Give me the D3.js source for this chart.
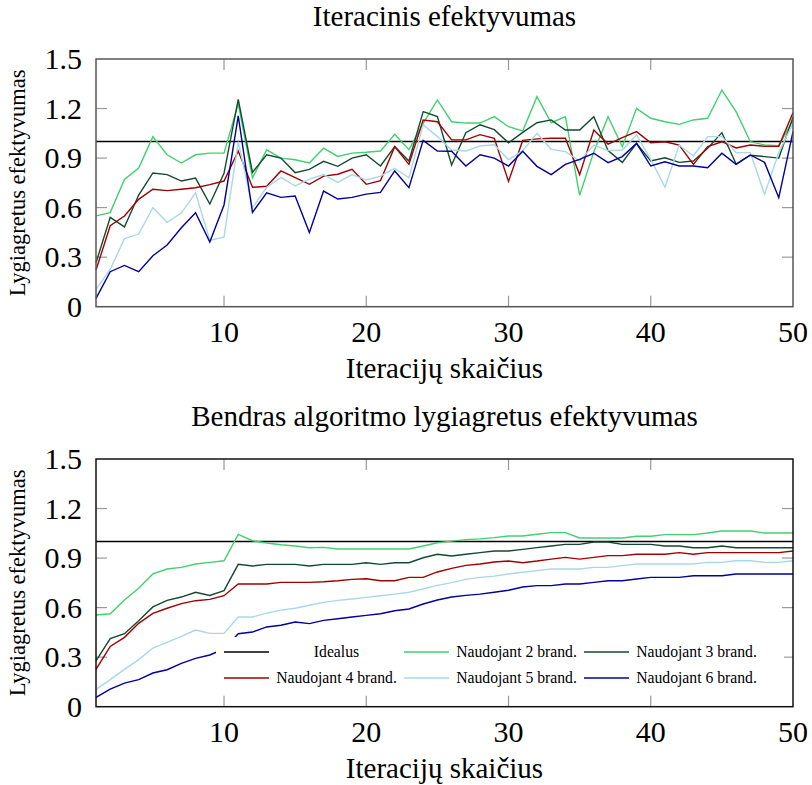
<!DOCTYPE html>
<html>
<head>
<meta charset="utf-8">
<script src="https://cdn.jsdelivr.net/npm/d3@7"></script>
<style>
  body { margin: 0; background: #fff; }
  svg text { font-family: "Liberation Serif", "DejaVu Serif", serif; fill: #000; }
</style>
</head>
<body>
<div id="chart"></div>
<script>
// iteracijos 1..50
const iterations = d3.range(1, 51);
const yTicks = [0, 0.3, 0.6, 0.9, 1.2, 1.5];
const xTicks = [10, 20, 30, 40, 50];
const seriesNames = ["Naudojant 2 brand.", "Naudojant 3 brand.", "Naudojant 4 brand.", "Naudojant 5 brand.", "Naudojant 6 brand."];
const idealValue = 1;

// Iteracinis efektyvumas
const iter2 = [0.55,0.57,0.77,0.84,1.03,0.92,0.87,0.92,0.93,0.93,1.23,0.78,0.95,0.90,0.89,0.87,0.96,0.91,0.93,0.935,
  0.943,1.044,0.951,1.11,1.252,1.12,1.112,1.112,1.151,1.09,1.064,1.272,1.114,1.151,0.674,0.939,1.151,0.969,1.201,1.141,
  1.12,1.104,1.131,1.141,1.312,1.181,0.999,0.979,0.975,1.13];
const iter3 = [0.266,0.541,0.483,0.676,0.81,0.80,0.761,0.779,0.622,0.808,1.256,0.814,0.92,0.90,0.812,0.832,0.88,0.85,0.90,0.92,
  0.852,0.969,0.882,1.181,1.151,0.858,1.054,1.102,1.072,0.993,1.056,1.114,1.131,1.07,1.07,1.151,0.945,0.874,0.989,0.882,
  0.902,0.874,0.882,0.959,1.054,0.864,0.917,0.909,0.90,1.147];
const iter4 = [0.222,0.49,0.549,0.65,0.711,0.703,0.711,0.72,0.739,0.761,0.943,0.723,0.729,0.822,0.781,0.741,0.791,0.802,0.832,0.741,
  0.763,0.969,0.862,1.131,1.12,1.01,1.01,1.042,1.02,0.759,1.007,1.016,1.02,1.02,0.80,1.07,0.985,1.024,1.06,0.993,
  0.999,0.979,0.862,0.969,0.999,0.961,0.979,0.971,0.971,1.175];
const iter5 = [0.105,0.226,0.412,0.44,0.60,0.511,0.567,0.69,0.402,0.422,1.0,0.60,0.723,0.783,0.731,0.773,0.80,0.753,0.80,0.767,
  0.791,0.838,0.781,1.102,1.03,0.949,0.943,0.973,0.981,0.89,0.945,1.05,0.953,0.939,0.882,0.979,0.945,0.949,1.04,0.892,
  0.723,0.979,0.913,1.03,1.03,0.933,0.933,0.68,0.933,1.11];
const iter6 = [0.05,0.212,0.25,0.212,0.309,0.374,0.478,0.569,0.392,0.616,1.155,0.571,0.69,0.662,0.67,0.45,0.70,0.652,0.662,0.682,
  0.692,0.822,0.721,1.007,0.943,0.941,0.852,0.92,0.90,0.852,0.941,0.85,0.80,0.862,0.892,0.929,0.872,0.909,0.989,0.852,
  0.878,0.852,0.852,0.842,0.929,0.862,0.919,0.874,0.66,1.06];

// Bendras algoritmo lygiagretus efektyvumas
const total2 = [0.555,0.563,0.646,0.717,0.804,0.834,0.844,0.864,0.874,0.884,1.044,1.005,0.991,0.981,0.973,0.963,0.965,0.955,0.955,0.955,
  0.955,0.955,0.955,0.973,0.993,1.003,1.012,1.016,1.024,1.034,1.034,1.044,1.054,1.054,1.022,1.022,1.022,1.022,1.032,1.032,
  1.042,1.042,1.042,1.052,1.064,1.064,1.064,1.052,1.052,1.052];
const total3 = [0.277,0.412,0.442,0.521,0.604,0.644,0.664,0.693,0.674,0.703,0.862,0.852,0.862,0.862,0.862,0.852,0.862,0.862,0.862,0.872,
  0.862,0.872,0.872,0.902,0.923,0.913,0.923,0.933,0.943,0.943,0.953,0.963,0.973,0.983,0.983,0.997,0.997,0.983,0.983,0.983,
  0.973,0.973,0.963,0.963,0.973,0.963,0.963,0.963,0.963,0.963];
const total4 = [0.226,0.365,0.42,0.505,0.565,0.596,0.624,0.642,0.65,0.672,0.743,0.743,0.743,0.753,0.753,0.753,0.757,0.763,0.771,0.775,
  0.763,0.763,0.783,0.783,0.816,0.838,0.856,0.864,0.876,0.882,0.872,0.882,0.894,0.904,0.894,0.904,0.915,0.915,0.923,0.923,
  0.923,0.933,0.923,0.933,0.933,0.933,0.933,0.933,0.933,0.943];
const total5 = [0.105,0.164,0.226,0.285,0.355,0.39,0.426,0.464,0.444,0.444,0.543,0.543,0.567,0.585,0.596,0.614,0.632,0.644,0.652,0.662,
  0.672,0.682,0.693,0.713,0.735,0.751,0.771,0.783,0.791,0.804,0.814,0.824,0.834,0.834,0.834,0.844,0.844,0.854,0.864,0.864,
  0.864,0.864,0.864,0.874,0.874,0.884,0.884,0.874,0.874,0.884];
const total6 = [0.057,0.107,0.143,0.164,0.204,0.224,0.262,0.293,0.313,0.35,0.442,0.452,0.483,0.493,0.513,0.503,0.523,0.533,0.543,0.553,
  0.563,0.581,0.592,0.622,0.646,0.664,0.674,0.682,0.693,0.705,0.725,0.733,0.733,0.743,0.743,0.753,0.763,0.763,0.773,0.783,
  0.783,0.783,0.793,0.793,0.793,0.804,0.804,0.804,0.804,0.804];

const colors = ["#3fd16f", "#124a2e", "#a00000", "#a8d8e8", "#00009a"];
const idealColor = "#000";

const W = 812, H = 785;
const svg = d3.select("#chart").append("svg").attr("width", W).attr("height", H);

function drawPanel(top, title, series, withLegend, frameColor) {
  const left = 96, right = 793, plotH = 247.7;
  const x = d3.scaleLinear().domain([1, 50]).range([left, right]);
  const y = d3.scaleLinear().domain([0, 1.5]).range([top + plotH, top]);
  const g = svg.append("g");

  g.append("text")
    .attr("x", (left + right) / 2).attr("y", top - 33)
    .attr("text-anchor", "middle")
    .style("font-size", "29px")
    .text(title);

  // ticks (inward, on all four sides)
  const tickLen = 11;
  xTicks.forEach(t => {
    if (t === 50) return;
    g.append("line").attr("x1", x(t)).attr("x2", x(t)).attr("y1", top + plotH).attr("y2", top + plotH - tickLen)
      .attr("stroke", "#999").attr("stroke-width", 1.2);
    g.append("line").attr("x1", x(t)).attr("x2", x(t)).attr("y1", top).attr("y2", top + tickLen)
      .attr("stroke", "#999").attr("stroke-width", 1.2);
  });
  yTicks.forEach(t => {
    if (t === 0 || t === 1.5) return;
    g.append("line").attr("x1", left).attr("x2", left + tickLen).attr("y1", y(t)).attr("y2", y(t))
      .attr("stroke", "#999").attr("stroke-width", 1.2);
    g.append("line").attr("x1", right).attr("x2", right - tickLen).attr("y1", y(t)).attr("y2", y(t))
      .attr("stroke", "#999").attr("stroke-width", 1.2);
  });

  // tick labels
  g.selectAll(".xt").data(xTicks).enter().append("text")
    .attr("x", d => x(d)).attr("y", top + plotH + 35)
    .attr("text-anchor", "middle")
    .style("font-size", "30px")
    .text(d => d);
  g.selectAll(".yt").data(yTicks).enter().append("text")
    .attr("x", left - 14).attr("y", d => y(d) + 10)
    .attr("text-anchor", "end")
    .style("font-size", "30px")
    .text(d => d === 0 ? "0" : d.toFixed(1));

  g.append("text")
    .attr("x", (left + right) / 2).attr("y", top + plotH + 71)
    .attr("text-anchor", "middle")
    .style("font-size", "29px")
    .text("Iteracijų skaičius");

  g.append("text")
    .attr("transform", `translate(25,${top + plotH / 2}) rotate(-90)`)
    .attr("text-anchor", "middle")
    .style("font-size", "22.5px")
    .text("Lygiagretus efektyvumas");

  const line = d3.line().x((d, i) => x(iterations[i])).y(d => y(d));

  // idealus
  g.append("line").attr("x1", left).attr("x2", right).attr("y1", y(idealValue)).attr("y2", y(idealValue))
    .attr("stroke", idealColor).attr("stroke-width", 1.4);

  series.forEach((s, k) => {
    g.append("path").datum(s).attr("d", line)
      .attr("fill", "none").attr("stroke", colors[k]).attr("stroke-width", 1.4)
      .attr("stroke-linejoin", "miter");
  });

  if (withLegend) {
    const lg = g.append("g");
    lg.append("rect").attr("x", 216).attr("y", 637).attr("width", 568).attr("height", 56).attr("fill", "#fff");
    const items = [{ name: "Idealus", color: idealColor }].concat(seriesNames.map((n, k) => ({ name: n, color: colors[k] })));
    const colX = [224, 404, 584];
    const rowY = [652, 678];
    items.forEach((it, i) => {
      const cx = colX[i % 3], cy = rowY[Math.floor(i / 3)];
      lg.append("line").attr("x1", cx).attr("x2", cx + 45).attr("y1", cy).attr("y2", cy)
        .attr("stroke", it.color).attr("stroke-width", 1.4);
      lg.append("text").attr("x", cx + 52 + 60.5).attr("y", cy + 5)
        .attr("text-anchor", "middle")
        .style("font-size", "15.7px")
        .text(it.name);
    });
  }

  // frame
  g.append("rect").attr("x", left).attr("y", top).attr("width", right - left).attr("height", plotH)
    .attr("fill", "none").attr("stroke", frameColor).attr("stroke-width", 1.5);
}

drawPanel(59, "Iteracinis efektyvumas", [iter2, iter3, iter4, iter5, iter6], false, "#555");
drawPanel(459, "Bendras algoritmo lygiagretus efektyvumas", [total2, total3, total4, total5, total6], true, "#111");
</script>
</body>
</html>
